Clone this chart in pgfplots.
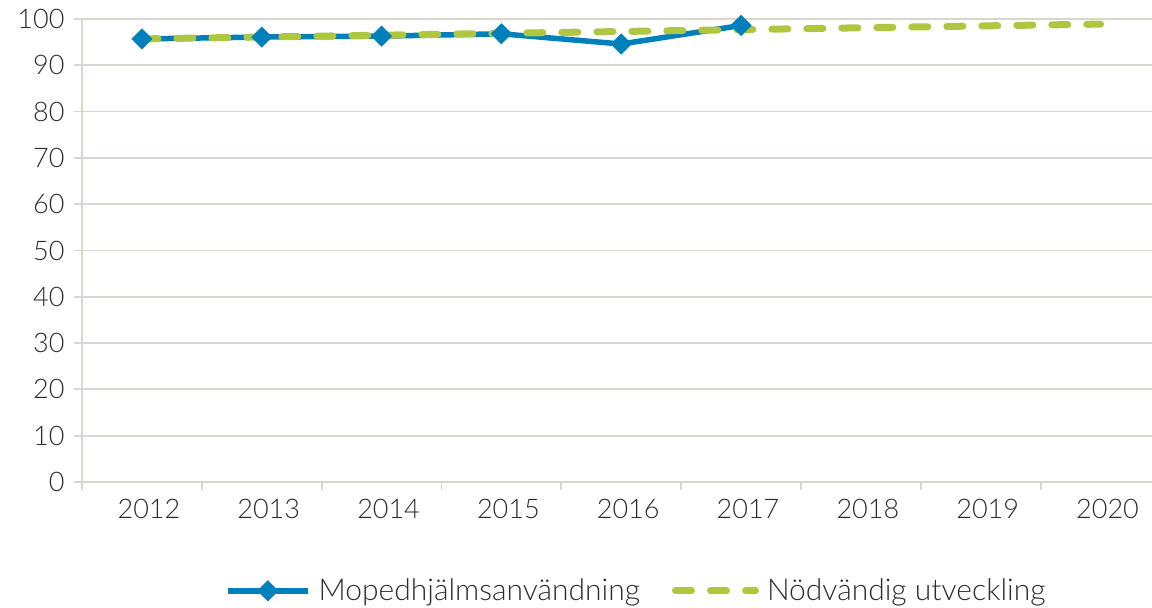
\documentclass[border=0pt]{standalone}
\usepackage{pgfplots}
\pgfplotsset{compat=1.18}
\usepackage{fontspec}
\setmainfont{Lato}[UprightFont=* Light]
\definecolor{blueline}{RGB}{0,128,186}
\definecolor{greenline}{RGB}{175,199,62}
\definecolor{gridc}{RGB}{217,213,207}
\definecolor{textc}{RGB}{45,45,45}
\begin{document}
\begin{tikzpicture}
\useasboundingbox (0pt,0pt) rectangle (1152pt,608pt);
\begin{axis}[
  at={(82pt,126pt)}, anchor=south west,
  scale only axis, width=1070pt, height=463pt,
  xmin=-0.5, xmax=8.43, ymin=0, ymax=100,
  clip=false,
  /pgf/number format/assume math mode=true,
  axis x line*=bottom, axis y line*=left,
  axis line style={gridc, line width=1.8pt, -},
  xtick={0,...,8},
  xticklabels={2012,2013,2014,2015,2016,2017,2018,2019,2020},
  minor xtick={-0.5,0.5,...,7.5},
  major x tick style={draw=none},
  minor x tick style={gridc, line width=1.8pt},
  minor tick length=8pt,
  ytick={0,10,...,100},
  ymajorgrids,
  grid style={gridc, line width=1.8pt},
  major y tick style={gridc, line width=1.8pt},
  major tick length=8pt,
  tick align=outside,
  tick label style={font=\fontsize{27}{32}\selectfont, text=textc},
  xticklabel style={xshift=7pt, yshift=-6pt},
  yticklabel style={xshift=-6pt},
  legend style={at={(0.518,-0.235)}, anchor=center, draw=none, fill=none,
    legend columns=2, font=\fontsize{30}{35}\selectfont, text=textc,
    /tikz/every odd column/.append style={column sep=6pt},
    /tikz/every even column/.append style={column sep=30pt}},
  legend image code/.code={
    \draw[#1, mark repeat=2, mark phase=2] plot coordinates {(0pt,0pt) (40pt,0pt) (80pt,0pt)};
  },
]
\addplot[blueline, line width=5.5pt, mark=square*, mark size=7.2pt,
  mark options={rotate=45, solid, fill=blueline, draw=blueline, line width=0.5pt}]
  coordinates {(0,95.7) (1,96.1) (2,96.3) (3,96.8) (4,94.6) (5,98.6)};
\addlegendentry{Mopedhjälmsanvändning}
\addplot[greenline, line width=7pt, line cap=round, dash pattern=on 16pt off 19pt]
  coordinates {(0,95.7) (1,96.1) (2,96.5) (3,96.9) (4,97.3) (5,97.7) (6,98.1) (7,98.5) (8,98.9)};
\addlegendentry{Nödvändig utveckling}
\end{axis}
\end{tikzpicture}
\end{document}
